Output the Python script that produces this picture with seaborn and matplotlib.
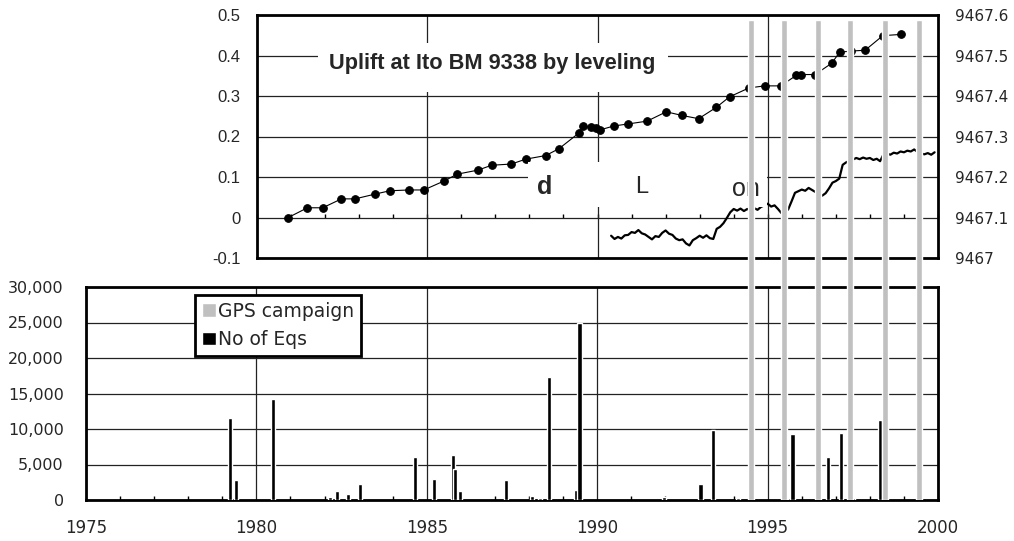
import matplotlib
matplotlib.use('Agg')
import matplotlib.pyplot as plt
import matplotlib.patches as mpatches
from matplotlib.ticker import FuncFormatter, MultipleLocator
import seaborn as sns

sns.set_theme(style='white')
plt.rcParams['font.family'] = ['Liberation Sans', 'DejaVu Sans']

# Uplift at Ito BM 9338 by leveling (left axis, m)
lev_years = [1980.92, 1981.48, 1981.93, 1982.48, 1982.88, 1983.48, 1983.90, 1984.47,
             1984.90, 1985.49, 1985.88, 1986.49, 1986.89, 1987.47, 1987.89, 1988.48,
             1988.87, 1989.46, 1989.56, 1989.82, 1989.97, 1990.06, 1990.48, 1990.90,
             1991.46, 1992.02, 1992.48, 1992.97, 1993.49, 1993.88, 1994.45, 1994.91,
             1995.38, 1995.84, 1995.98, 1996.39, 1996.88, 1997.11, 1997.45, 1997.86,
             1998.38, 1998.90]
lev_uplift = [0.000, 0.024, 0.024, 0.046, 0.046, 0.058, 0.066, 0.068,
              0.068, 0.090, 0.107, 0.117, 0.129, 0.132, 0.144, 0.153,
              0.170, 0.209, 0.225, 0.224, 0.221, 0.216, 0.226, 0.231,
              0.238, 0.261, 0.252, 0.244, 0.272, 0.298, 0.320, 0.325,
              0.325, 0.351, 0.353, 0.353, 0.381, 0.408, 0.411, 0.413,
              0.449, 0.452]

# continuous GPS height (right axis, m)
gps_years = [1990.4, 1990.5, 1990.6, 1990.7, 1990.8, 1990.9,
             1991.0, 1991.1, 1991.2, 1991.3, 1991.4, 1991.5, 1991.6, 1991.7, 1991.8, 1991.9,
             1992.0, 1992.1, 1992.2, 1992.3, 1992.4, 1992.5, 1992.6, 1992.7, 1992.8, 1992.9,
             1993.0, 1993.1, 1993.2, 1993.3, 1993.4, 1993.5, 1993.6, 1993.7, 1993.8, 1993.9,
             1994.0, 1994.1, 1994.2, 1994.3, 1994.4, 1994.5, 1994.6, 1994.7, 1994.8, 1994.9,
             1995.0, 1995.1, 1995.2, 1995.3, 1995.4, 1995.5, 1995.6, 1995.7, 1995.8, 1995.9,
             1996.0, 1996.1, 1996.2, 1996.3, 1996.4, 1996.5, 1996.6, 1996.7, 1996.8, 1996.9,
             1997.0, 1997.1, 1997.2, 1997.3, 1997.4, 1997.5, 1997.6, 1997.7, 1997.8, 1997.9,
             1998.0, 1998.1, 1998.2, 1998.3, 1998.4, 1998.5, 1998.6, 1998.7, 1998.8, 1998.9,
             1999.0, 1999.1, 1999.2, 1999.3, 1999.4, 1999.5, 1999.6, 1999.7, 1999.8, 1999.9]
gps_height = [9467.055, 9467.047, 9467.052, 9467.048, 9467.056, 9467.057,
              9467.064, 9467.062, 9467.069, 9467.061, 9467.058, 9467.052, 9467.046, 9467.054, 9467.052, 9467.062,
              9467.068, 9467.060, 9467.057, 9467.048, 9467.044, 9467.046, 9467.036, 9467.031, 9467.044, 9467.049,
              9467.055, 9467.050, 9467.056, 9467.049, 9467.047, 9467.072, 9467.077, 9467.086, 9467.099, 9467.113,
              9467.121, 9467.117, 9467.122, 9467.116, 9467.121, 9467.117, 9467.123, 9467.119, 9467.126, 9467.130,
              9467.134, 9467.127, 9467.130, 9467.121, 9467.111, 9467.113, 9467.120, 9467.140, 9467.161, 9467.165,
              9467.169, 9467.166, 9467.173, 9467.168, 9467.163, 9467.158, 9467.154, 9467.160, 9467.172, 9467.186,
              9467.190, 9467.196, 9467.230, 9467.236, 9467.240, 9467.243, 9467.247, 9467.244, 9467.248, 9467.245,
              9467.247, 9467.242, 9467.245, 9467.239, 9467.256, 9467.258, 9467.255, 9467.260, 9467.258, 9467.263,
              9467.261, 9467.265, 9467.263, 9467.268, 9467.262, 9467.258, 9467.256, 9467.259, 9467.255, 9467.261]

# number of earthquakes per swarm
eq_years = [1979.22, 1979.39, 1980.49, 1982.16, 1982.36, 1982.68, 1983.05, 1984.66,
            1985.21, 1985.77, 1985.83, 1985.98, 1987.33, 1988.10, 1988.32, 1988.58,
            1989.38, 1989.48, 1991.97, 1993.03, 1993.41, 1994.13, 1995.66, 1995.73,
            1996.77, 1997.16, 1997.49, 1998.30]
eq_counts = [11600, 2800, 14200, 450, 1300, 800, 2300, 6100,
             3000, 6300, 4400, 1200, 2800, 600, 300, 17300,
             1400, 25000, 400, 2300, 9900, 300, 300, 9300,
             6100, 9500, 300, 11200]

campaign_years = [1994.52, 1995.47, 1996.49, 1997.41, 1998.45, 1999.45]

W, H = 1014, 541
fig = plt.figure(figsize=(W / 100, H / 100), dpi=100)
ax_top = fig.add_axes([257 / W, 1 - 258 / H, (938 - 257) / W, (258 - 15) / H])
ax_bot = fig.add_axes([86 / W, 1 - 500 / H, (938 - 86) / W, (500 - 287) / H])

grid_kw = dict(color='#222222', lw=0.9)

# ---- top panel
sns.lineplot(x=lev_years, y=lev_uplift, ax=ax_top, color='black', lw=0.8,
             marker='o', markersize=5.5, markeredgecolor='black', zorder=4)
ax_top.set_xlim(1980, 2000)
ax_top.set_ylim(-0.1, 0.5)
ax_top.set_xticks([1985, 1990, 1995])
ax_top.set_yticks([-0.1, 0, 0.1, 0.2, 0.3, 0.4, 0.5])
ax_top.yaxis.set_major_formatter(FuncFormatter(lambda v, p: f'{round(v, 1):g}'))
ax_top.tick_params(axis='x', length=0, labelbottom=False)
ax_top.tick_params(axis='y', length=0, pad=12, labelsize=12)
ax_top.grid(True, **grid_kw)
ax_top.set_axisbelow(True)
ax_top.set_xlabel('')
ax_top.set_ylabel('')

# year ticks along the zero line
sec = ax_top.secondary_xaxis(1 / 6)
sec.xaxis.set_major_locator(MultipleLocator(1))
sec.tick_params(direction='in', length=3, width=1, color='black', labelbottom=False,
                labeltop=False)
for s in sec.spines.values():
    s.set_visible(False)

ax2 = ax_top.twinx()
sns.lineplot(x=gps_years, y=gps_height, ax=ax2, color='black', lw=1.6, zorder=2)
ax2.set_ylim(9467, 9467.6)
ax2.set_yticks([9467 + i / 10 for i in range(7)])
ax2.yaxis.set_major_formatter(FuncFormatter(lambda v, p: f'{round(v, 1):g}'))
ax2.tick_params(axis='y', length=0, pad=12, labelsize=11)
for lab in ax2.get_yticklabels():
    lab.set_family('DejaVu Sans')
ax2.set_ylabel('')
for s in ax2.spines.values():
    s.set_visible(False)

# label boxes (drawn in left-axis units)
ax2.add_patch(mpatches.Rectangle((1981.79, 0.309), 10.27, 0.123, transform=ax_top.transData,
                                 facecolor='white', edgecolor='none', zorder=5))
ax2.text(1986.9, 0.381, 'Uplift at Ito BM 9338 by leveling', transform=ax_top.transData,
         ha='center', va='center', fontsize=15.7, fontweight='bold', zorder=6)
ax2.add_patch(mpatches.Rectangle((1987.95, 0.025), 7.04, 0.111, transform=ax_top.transData,
                                 facecolor='white', edgecolor='none', zorder=5))
ax2.text(1988.45, 0.075, 'd', transform=ax_top.transData, ha='center', va='center',
         fontsize=18, fontweight='bold', zorder=6)
ax2.text(1991.29, 0.075, 'L', transform=ax_top.transData, ha='center', va='center',
         fontsize=17, zorder=6)
ax2.text(1994.37, 0.070, 'on', transform=ax_top.transData, ha='center', va='center',
         fontsize=18, zorder=6)

for s in ax_top.spines.values():
    s.set_visible(True)
    s.set_linewidth(2)
    s.set_color('black')

# ---- bottom panel
ax_bot.bar(eq_years, eq_counts, width=0.12, color='black', zorder=3)
ax_bot.set_xlim(1975, 2000)
ax_bot.set_ylim(0, 30000)
ax_bot.set_xticks([1975, 1980, 1985, 1990, 1995, 2000])
ax_bot.xaxis.set_minor_locator(MultipleLocator(1))
ax_bot.set_yticks(range(0, 30001, 5000))
ax_bot.yaxis.set_major_formatter(FuncFormatter(lambda v, p: f'{int(v):,}'))
ax_bot.tick_params(axis='x', which='major', length=0, pad=14, labelsize=12)
ax_bot.tick_params(axis='x', which='minor', bottom=True, direction='in', length=3,
                   width=1, color='black')
ax_bot.tick_params(axis='y', length=0, pad=16, labelsize=11.5)
for lab in ax_bot.get_xticklabels() + ax_bot.get_yticklabels():
    lab.set_family('DejaVu Sans')
ax_bot.grid(True, which='major', **grid_kw)
ax_bot.set_axisbelow(True)
for s in ax_bot.spines.values():
    s.set_visible(True)
    s.set_linewidth(2)
    s.set_color('black')

handles = [mpatches.Patch(facecolor='#c0c0c0', label='GPS campaign'),
           mpatches.Patch(facecolor='black', label='No of Eqs')]
leg = ax_bot.legend(handles=handles, loc='upper left', bbox_to_anchor=(0.128, 0.962),
                    borderaxespad=0, fancybox=False, framealpha=1, edgecolor='black',
                    prop={'family': 'DejaVu Sans', 'size': 13.5}, handlelength=0.75,
                    handleheight=0.75, handletextpad=0.15, borderpad=0.35,
                    labelspacing=0.5)
leg.get_frame().set_linewidth(2)

# ---- GPS campaigns spanning both panels
ax_gps = fig.add_axes([86 / W, 1 - 500 / H, (938 - 86) / W, (500 - 20) / H])
ax_gps.bar(campaign_years, [1] * len(campaign_years), width=0.17, color='#c0c0c0')
ax_gps.set_xlim(1975, 2000)
ax_gps.set_ylim(0, 1)
ax_gps.axis('off')
ax_gps.patch.set_alpha(0)

fig.savefig('out.png', dpi=100)
